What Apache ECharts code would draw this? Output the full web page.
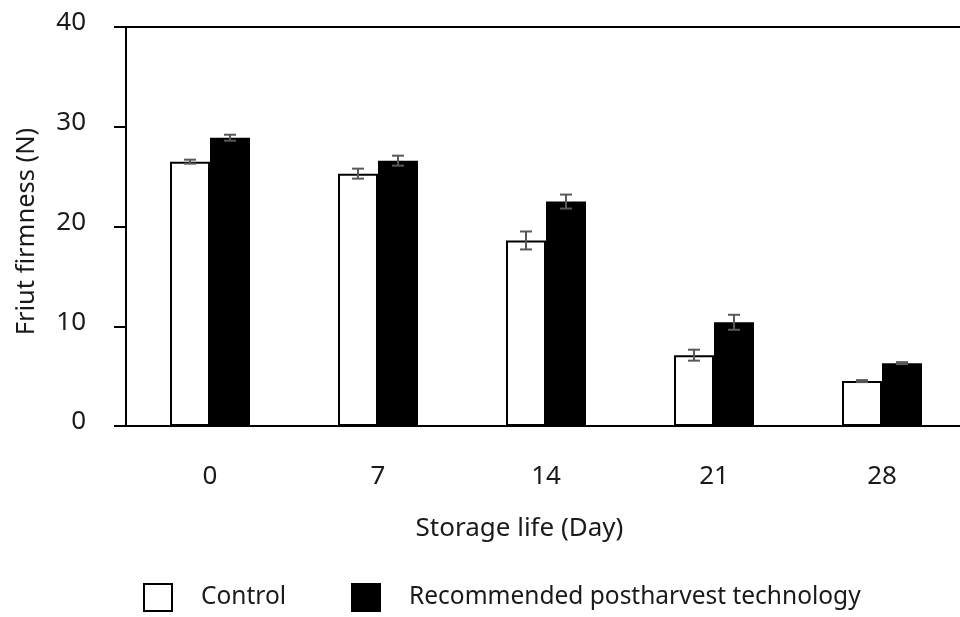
<!DOCTYPE html>
<html>
<head>
<meta charset="utf-8">
<script src="https://cdn.jsdelivr.net/npm/echarts@6/dist/echarts.min.js"></script>
<style>html,body{margin:0;padding:0;background:#fff;}#c{width:960px;height:617px;}</style>
</head>
<body>
<div id="c"></div>
<script>
const categories = ['0', '7', '14', '21', '28'];
const controlValues = [26.5, 25.3, 18.6, 7.1, 4.5];
const controlErrors = [0.2, 0.5, 0.9, 0.55, 0.1];
const techValues = [28.9, 26.6, 22.5, 10.4, 6.3];
const techErrors = [0.3, 0.5, 0.7, 0.75, 0.1];
const yTicks = [0, 10, 20, 30, 40];

const FONT = '"Noto Sans", sans-serif';
const TEXT = '#1a1a1a';
const BAR_W = 40;

function errData(vals, errs) {
  return vals.map((v, i) => [i, v - errs[i], v + errs[i]]);
}
function errRender(offset) {
  return function (params, api) {
    const i = api.value(0);
    const lo = api.coord([i, api.value(1)]);
    const hi = api.coord([i, api.value(2)]);
    const x = lo[0] + offset;
    const cap = 6;
    const st = { stroke: '#595959', lineWidth: 2 };
    return {
      type: 'group',
      children: [
        { type: 'line', shape: { x1: x, y1: lo[1], x2: x, y2: hi[1] }, style: st },
        { type: 'line', shape: { x1: x - cap, y1: lo[1], x2: x + cap, y2: lo[1] }, style: st },
        { type: 'line', shape: { x1: x - cap, y1: hi[1], x2: x + cap, y2: hi[1] }, style: st }
      ]
    };
  };
}

const legendBase = {
  padding: 0, top: 583, itemWidth: 28, itemHeight: 27, icon: 'rect', selectedMode: false,
  itemStyle: { borderColor: '#000', borderWidth: 2 },
  textStyle: { fontFamily: FONT, fontSize: 24.5, color: TEXT, padding: [0, 0, 0, 24] }
};

const chart = echarts.init(document.getElementById('c'), null, { renderer: 'canvas' });
chart.setOption({
  animation: false,
  backgroundColor: '#fff',
  grid: { left: 126, top: 27, width: 840, height: 399, containLabel: false, outerBoundsMode: 'none' },
  legend: [
    Object.assign({}, legendBase, { data: ['Control'], left: 143 }),
    Object.assign({}, legendBase, { data: ['Recommended postharvest technology'], left: 351 })
  ],
  xAxis: [
    {
      type: 'category',
      data: categories,
      name: 'Storage life (Day)',
      nameLocation: 'middle',
      nameGap: 90,
      nameTextStyle: { fontFamily: FONT, fontSize: 26, color: TEXT, padding: [0, 53, 0, 0] },
      axisLine: { lineStyle: { color: '#000', width: 2 } },
      axisTick: { alignWithLabel: true, interval: 0, length: 9, lineStyle: { color: '#000', width: 2 } },
      axisLabel: { fontFamily: FONT, fontSize: 26, color: TEXT, margin: 38, interval: 0 }
    },
    {
      type: 'category',
      data: categories,
      position: 'top',
      axisLine: { show: true, lineStyle: { color: '#000', width: 2 } },
      axisTick: { show: false },
      axisLabel: { show: false }
    }
  ],
  yAxis: {
    type: 'value',
    min: yTicks[0],
    max: yTicks[yTicks.length - 1],
    interval: 10,
    name: 'Friut firmness (N)',
    nameLocation: 'middle',
    nameGap: 86,
    nameTextStyle: { fontFamily: FONT, fontSize: 25.5, color: TEXT, padding: [0, 10, 0, 0] },
    axisLine: { show: true, lineStyle: { color: '#000', width: 2 } },
    axisTick: { show: true, length: 12, lineStyle: { color: '#000', width: 2 } },
    axisLabel: { fontFamily: FONT, fontSize: 26, color: TEXT, margin: 40, verticalAlign: 'bottom', lineHeight: 8 },
    splitLine: { show: false }
  },
  series: [
    {
      name: 'Control', type: 'bar', data: controlValues, barWidth: BAR_W, barGap: '0%',
      itemStyle: { color: '#fff', borderColor: '#000', borderWidth: 2 }, z: 2
    },
    {
      name: 'Recommended postharvest technology', type: 'bar', data: techValues, barWidth: BAR_W,
      itemStyle: { color: '#000' }, z: 2
    },
    {
      type: 'custom', data: errData(controlValues, controlErrors), renderItem: errRender(-BAR_W / 2),
      encode: { x: 0, y: [1, 2] }, z: 5, silent: true
    },
    {
      type: 'custom', data: errData(techValues, techErrors), renderItem: errRender(BAR_W / 2),
      encode: { x: 0, y: [1, 2] }, z: 5, silent: true
    }
  ]
});
</script>
</body>
</html>
